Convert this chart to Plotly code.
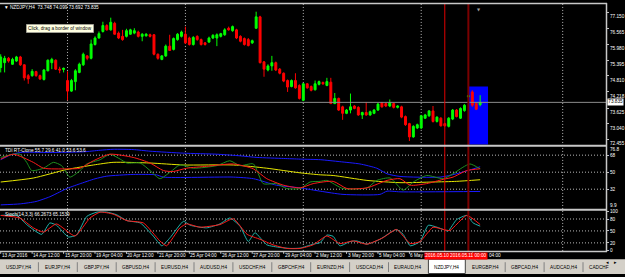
import plotly.graph_objects as go

# ---------------- data ----------------
opens = [75.12, 75.30, 75.46, 75.24, 75.36, 75.51, 75.22, 74.82, 74.82, 74.97,
         74.82, 74.68, 75.00, 75.30, 75.39, 75.06, 75.05, 74.64, 74.25, 74.60,
         74.94, 75.22, 75.55, 75.46, 75.97, 76.21, 76.45, 76.67, 76.51, 76.75,
         76.39, 76.27, 76.27, 76.35, 76.39, 76.43, 76.27, 76.29, 76.33, 76.33,
         75.61, 75.42, 75.55, 75.91, 75.79, 76.15, 76.27, 76.35, 76.21, 75.97,
         76.27, 76.15, 76.03, 76.06, 76.21, 76.21, 76.27, 76.33, 76.57, 76.48,
         76.51, 76.27, 76.19, 76.15, 76.03, 76.57, 76.99, 75.33, 75.03, 75.18,
         75.30, 75.06, 74.91, 74.64, 74.42, 74.64, 74.46, 73.91, 74.52, 74.42,
         74.30, 74.50, 74.57, 74.46, 74.58, 73.79, 73.98, 73.67, 73.43, 73.55,
         73.70, 73.65, 73.37, 73.46, 73.37, 73.43, 73.55, 73.82, 73.79, 73.70,
         73.79, 73.65, 73.67, 73.31, 73.05, 72.56, 72.89, 72.89, 73.25, 73.34,
         73.52, 73.13, 73.25, 73.05, 72.95, 73.22, 73.55, 73.25, 73.53, 74.04,
         74.22, 73.79, 73.748]
highs = [75.61, 75.55, 75.51, 75.48, 75.55, 75.55, 75.24, 74.88, 75.06, 75.00,
         74.86, 75.06, 75.42, 75.48, 75.42, 75.15, 75.12, 74.98, 74.70, 75.06,
         75.30, 75.67, 75.58, 76.15, 76.27, 76.45, 76.81, 76.72, 76.96, 76.81,
         76.45, 76.51, 76.55, 76.55, 76.57, 76.48, 76.39, 76.39, 76.37, 76.35,
         75.64, 75.58, 75.97, 76.33, 76.23, 76.39, 76.48, 76.63, 76.26, 76.28,
         76.31, 76.19, 76.06, 76.26, 76.35, 76.38, 76.40, 76.57, 76.63, 76.67,
         76.55, 76.31, 76.23, 76.21, 76.15, 77.18, 77.03, 75.36, 75.24, 75.55,
         75.34, 75.10, 74.94, 74.68, 74.68, 74.91, 74.50, 74.55, 74.55, 74.46,
         74.64, 74.64, 74.60, 74.74, 74.74, 74.18, 74.01, 73.71, 73.59, 74.16,
         73.73, 73.69, 73.49, 73.85, 73.53, 73.59, 73.82, 73.85, 73.83, 73.94,
         73.83, 73.73, 73.71, 73.35, 73.08, 72.99, 73.05, 73.37, 73.41, 73.55,
         73.70, 73.32, 73.29, 73.08, 73.29, 73.59, 73.59, 73.65, 73.77, 74.11,
         74.28, 73.83, 74.099]
lows = [74.94, 74.94, 75.30, 75.22, 75.33, 75.18, 74.64, 74.52, 74.78, 74.78,
        74.66, 74.64, 74.98, 75.06, 75.03, 74.91, 74.94, 73.91, 74.22, 74.28,
        74.91, 75.18, 75.39, 75.42, 75.93, 76.19, 76.41, 76.48, 76.48, 76.33,
        76.17, 76.11, 76.23, 76.33, 76.35, 76.23, 76.09, 76.26, 76.23, 75.57,
        75.41, 75.39, 75.51, 75.73, 75.75, 76.11, 76.23, 75.99, 75.93, 75.93,
        76.11, 75.93, 75.93, 76.03, 76.17, 75.91, 76.23, 76.29, 76.48, 76.44,
        76.17, 76.05, 75.93, 75.90, 75.99, 76.55, 75.27, 74.78, 74.98, 75.00,
        74.99, 74.87, 74.58, 74.22, 74.39, 74.34, 73.94, 73.88, 74.34, 74.24,
        74.27, 74.46, 74.48, 74.43, 73.77, 73.77, 73.52, 73.19, 73.40, 73.43,
        73.58, 73.34, 73.22, 73.34, 73.34, 73.40, 73.52, 73.64, 73.66, 73.66,
        73.61, 73.61, 73.25, 72.97, 72.41, 72.53, 72.85, 72.85, 73.22, 73.30,
        73.09, 73.09, 72.94, 72.94, 72.91, 73.18, 73.28, 73.22, 73.49, 74.01,
        73.67, 73.55, 73.692]
closes = [75.51, 75.46, 75.36, 75.42, 75.51, 75.22, 74.74, 74.70, 74.98, 74.82,
          74.70, 75.03, 75.39, 75.42, 75.06, 75.03, 75.09, 74.25, 74.64, 75.00,
          75.24, 75.61, 75.46, 75.99, 76.21, 76.37, 76.67, 76.51, 76.79, 76.35,
          76.21, 76.15, 76.48, 76.51, 76.48, 76.27, 76.35, 76.35, 76.27, 75.61,
          75.46, 75.55, 75.91, 75.75, 76.19, 76.35, 76.43, 76.03, 75.97, 76.23,
          76.15, 75.97, 75.97, 76.21, 76.31, 76.33, 76.37, 76.51, 76.51, 76.63,
          76.21, 76.09, 75.97, 75.93, 76.11, 76.99, 75.30, 75.06, 75.18, 75.30,
          75.03, 74.91, 74.62, 74.40, 74.64, 74.37, 73.98, 74.52, 74.37, 74.28,
          74.52, 74.60, 74.52, 74.60, 73.79, 73.98, 73.55, 73.43, 73.55, 73.67,
          73.61, 73.37, 73.46, 73.37, 73.49, 73.55, 73.77, 73.67, 73.70, 73.82,
          73.65, 73.70, 73.29, 73.01, 72.56, 72.95, 73.01, 73.34, 73.37, 73.52,
          73.13, 73.29, 72.97, 72.97, 73.25, 73.55, 73.31, 73.61, 73.73, 74.08,
          73.73, 73.58, 73.835]

# visible time-axis labels (those under the red vertical-line label are cut in the reference)
time_tick_bars = [0, 8, 16, 24, 32, 40, 48, 56, 64, 72, 80, 88, 96, 104, 120]
time_tick_labels = ["13 Apr 2016", "14 Apr 12:00", "15 Apr 20:00", "19 Apr 04:00",
                    "20 Apr 12:00", "21 Apr 20:00", "25 Apr 04:00", "26 Apr 12:00",
                    "27 Apr 20:00", "29 Apr 04:00", "2 May 12:00", "3 May 20:00",
                    "5 May 04:00", "6 May 1", "04:00"]
price_ticks = [77.150, 76.565, 75.980, 75.395, 74.810, 74.218, 73.625, 73.040, 72.455]
current_price = 73.835

tdi_upper_x = [0, 2.4, 4.9, 12.5, 21, 25.3, 28.6, 33.7, 38, 46.5, 55, 60.9, 65.2, 72,
               76.2, 81.3, 86.3, 91.4, 95.7, 98.3, 101.6, 111.8, 116, 122]
tdi_upper_y = [63.2, 68.0, 70.8, 70.8, 71.5, 73.2, 74.2, 73.9, 72.2, 70.1, 69.0, 67.3,
               65.6, 64.5, 63.8, 63.2, 61.1, 58.7, 54.2, 48.3, 45.5, 44.8, 48.3, 55.7]
tdi_lower_x = [0, 5, 9, 12.5, 15, 16.8, 20, 24, 27, 33.7, 39.6, 41.4, 59.2, 64.3, 70.2,
               76.2, 81.3, 87.1, 96.5, 98.3, 101.6, 122]
tdi_lower_y = [15.4, 16.5, 19.0, 24.0, 29.0, 32.7, 37.5, 43.0, 45.8, 47.6, 47.2, 44.8,
               44.8, 43.1, 36.2, 33.4, 29.9, 26.5, 26.5, 29.9, 29.2, 29.6]
tdi_yellow_x = [0, 8.3, 16.8, 23.6, 28.6, 38, 46.5, 59.2, 67.7, 76.2, 81.3, 84.6, 93.2,
                101.6, 110, 116, 122]
tdi_yellow_y = [39.6, 43.8, 52.8, 57.6, 60.4, 59.7, 57.6, 57.6, 54.2, 49.3, 47.2, 46.5,
                41.3, 38.9, 39.6, 40.3, 42.0]
tdi_red_x = [0, 3.2, 8.3, 10.9, 16.8, 20.2, 23.6, 27.8, 33.7, 38, 41.4, 43.9, 47.3, 52.4,
             59.2, 64.3, 67.7, 72, 76.2, 79.5, 84.6, 88.1, 93.2, 98.3, 101.6, 104.2,
             108.4, 112.6, 115.1, 118.6, 122]
tdi_red_y = [63.8, 69.0, 60.4, 54.2, 53.5, 54.2, 62.1, 69.0, 65.6, 59.7, 51.7, 50.7, 54.2,
             56.2, 58.7, 53.5, 43.1, 36.2, 33.4, 37.9, 40.3, 32.7, 33.4, 41.3, 43.1, 36.2,
             37.9, 42.4, 44.8, 51.7, 53.6]
tdi_green_x = [0, 3.2, 4.9, 6.6, 7.9, 10.9, 13.4, 15.5, 17.6, 20.2, 21.9, 25.3, 27.8, 30.4,
               32.1, 35.5, 38, 40.5, 43.1, 45.6, 49, 55, 58.3, 60.9, 64.3, 66.8, 70.2, 72.8,
               76.2, 78.7, 81.3, 83, 87.1, 93.2, 95.7, 99.1, 102.4, 105, 108.4, 112.6,
               115.1, 117.6, 119.4, 122]
tdi_green_y = [65.6, 69.0, 69.0, 60.4, 51.7, 54.2, 60.4, 56.9, 44.8, 51.7, 58.7, 63.2, 69.0,
               63.8, 59.7, 59.7, 51.7, 43.1, 50.0, 57.6, 54.2, 56.9, 62.1, 56.9, 58.7, 37.9,
               37.9, 32.7, 32.7, 39.6, 40.3, 41.3, 32.7, 33.4, 41.3, 43.8, 31.0, 39.6, 46.5,
               43.1, 48.3, 55.2, 58.7, 53.6]

st_main_x = [0, 4.1, 6.6, 10.4, 12.5, 14.2, 17.2, 19.3, 21.9, 24.5, 27, 29.5, 32.1, 35.5,
             38.8, 41, 43.1, 46.5, 48.2, 52.4, 55.8, 58.3, 60.9, 63, 64.7, 67.7, 71.1, 73.6,
             76.2, 79.5, 81.3, 83, 84.6, 86.3, 88.9, 90.6, 93.2, 96.5, 100.7, 102.4, 104.2,
             106.7, 108.8, 111, 112.6, 113.8, 116, 118.6, 120.2, 122]
st_main_y = [89.0, 89.0, 66.0, 41.4, 70.1, 64.4, 34.8, 39.7, 86.6, 97.3, 97.3, 90.7, 75.9,
             70.1, 37.3, 12.6, 33.1, 74.2, 64.4, 57.8, 67.7, 82.5, 61.9, 23.3, 45.5, 15.1,
             8.5, 6.0, 6.8, 16.7, 20.8, 39.7, 36.4, 12.6, 23.3, 24.9, 16.7, 29.0, 53.7, 41.4,
             12.6, 23.3, 64.4, 59.4, 53.7, 49.6, 78.4, 89.0, 70.1, 62.0]
st_sig_x = [0, 4.9, 8.3, 10.9, 14.2, 18.9, 22.7, 25.3, 28.6, 32.1, 36.3, 40.5, 42.2, 45.6,
            47.3, 50.7, 55.8, 59.2, 62.7, 66, 69.3, 72.8, 76.2, 79.5, 83, 86.3, 89.7, 93.2,
            97.3, 100.7, 104.2, 106.7, 110, 112.6, 114.3, 118.6, 122]
st_sig_y = [89.0, 82.5, 57.8, 47.1, 67.7, 37.3, 82.5, 97.3, 92.3, 75.9, 70.1, 24.9, 12.6,
            57.8, 67.7, 59.4, 66.0, 80.8, 41.4, 29.0, 15.1, 6.0, 6.0, 15.1, 37.3, 18.4, 24.9,
            16.7, 33.1, 53.7, 18.4, 23.3, 59.4, 53.7, 51.2, 89.0, 66.0]

tdi_levels = [68, 50, 32]
stoch_levels = [80, 50, 20]
grid_bars = [17, 47, 77, 107, 143]
vline_bars = [113, 119]
vline_label = "2016.05.10 2016.05.11 00:00"
rect_bars = [119, 124]
rect_prices = [74.42, 72.28]

tab_names = ["USDJPY,H4", "EURJPY,H4", "GBPJPY,H4", "GBPUSD,H4", "EURUSD,H4", "AUDUSD,H4",
             "USDCHF,H4", "GBPCHF,H4", "EURNZD,H4", "USDCAD,H4", "EURAUD,H4", "NZDJPY,H4",
             "EURGBP,H4", "GBPCAD,H4", "AUDCAD,H4", "CADCHF"]
active_tab = "NZDJPY,H4"

title_text = "NZDJPY,H4  73.748 74.099 73.692 73.835"
tdi_text = "TDI RT-Clone 55.7 29.6 41.0 53.6 53.6"
stoch_text = "Stoch(14,3,3) 66.2673 65.1539"

# ---------------- layout helpers ----------------
W, H = 625, 277
FONT = "Liberation Sans, Arial, sans-serif"
FS = 4.7
PLOT_R = 606


def xp(px):
    return px / W


def yp(py):
    return 1 - py / H


bars = list(range(len(opens)))
fig = go.Figure()

fig.add_trace(go.Candlestick(
    x=bars, open=opens, high=highs, low=lows, close=closes,
    increasing=dict(line=dict(color="#00ff00", width=1), fillcolor="#00ff00"),
    decreasing=dict(line=dict(color="#ff0000", width=1), fillcolor="#ff0000"),
    whiskerwidth=0, hoverinfo="skip", xaxis="x", yaxis="y"))

for xs, ys, col in [
    (tdi_upper_x, tdi_upper_y, "#1a1aff"),
    (tdi_lower_x, tdi_lower_y, "#1a1aff"),
    (tdi_yellow_x, tdi_yellow_y, "#e6e600"),
    (tdi_green_x, tdi_green_y, "#1f8f1f"),
    (tdi_red_x, tdi_red_y, "#ff1a1a"),
]:
    fig.add_trace(go.Scatter(x=xs, y=ys, mode="lines",
                             line=dict(color=col, width=1, shape="spline", smoothing=0.6),
                             xaxis="x", yaxis="y2", hoverinfo="skip"))

fig.add_trace(go.Scatter(x=st_main_x, y=st_main_y, mode="lines",
                         line=dict(color="#20b2aa", width=1, shape="spline", smoothing=0.5),
                         xaxis="x", yaxis="y3", hoverinfo="skip"))
fig.add_trace(go.Scatter(x=st_sig_x, y=st_sig_y, mode="lines",
                         line=dict(color="#ff1a1a", width=1, shape="spline", smoothing=0.5),
                         xaxis="x", yaxis="y3", hoverinfo="skip"))

GRID = "#b8b8b8"
BORDER = "#c8c8c8"
shapes = []
# blue rectangle object
shapes.append(dict(type="rect", xref="x", yref="y", x0=rect_bars[0], x1=rect_bars[1],
                   y0=rect_prices[1], y1=rect_prices[0], fillcolor="#0000ff",
                   line=dict(width=0), layer="below"))
# vertical dotted grid
for b in grid_bars:
    shapes.append(dict(type="line", xref="x", yref="paper", x0=b, x1=b, y0=yp(253.5), y1=yp(2),
                       line=dict(color=GRID, width=1, dash="1px,2px"), layer="below"))
# horizontal levels
for v in tdi_levels:
    shapes.append(dict(type="line", xref="paper", yref="y2", x0=0, x1=xp(PLOT_R), y0=v, y1=v,
                       line=dict(color=GRID, width=1, dash="1px,2px"), layer="below"))
for v in stoch_levels:
    shapes.append(dict(type="line", xref="paper", yref="y3", x0=0, x1=xp(PLOT_R), y0=v, y1=v,
                       line=dict(color=GRID, width=1, dash="1px,2px"), layer="below"))
# current price line
shapes.append(dict(type="line", xref="paper", yref="y", x0=0, x1=xp(PLOT_R), y0=current_price,
                   y1=current_price, line=dict(color="#8c8c8c", width=1)))
# vertical red lines
shapes.append(dict(type="line", xref="x", yref="paper", x0=vline_bars[0], x1=vline_bars[0],
                   y0=yp(254), y1=yp(2), line=dict(color="#e00000", width=1)))
shapes.append(dict(type="line", xref="x", yref="paper", x0=vline_bars[1], x1=vline_bars[1],
                   y0=yp(254), y1=yp(2), line=dict(color="#7a0000", width=2)))
# panel borders
for py, w in [(1.5, 1.5), (146.5, 2), (211.5, 2), (254, 1.5)]:
    shapes.append(dict(type="line", xref="paper", yref="paper", x0=0, x1=xp(PLOT_R + 1),
                       y0=yp(py), y1=yp(py), line=dict(color=BORDER, width=w)))
shapes.append(dict(type="line", xref="paper", yref="paper", x0=xp(PLOT_R + 0.5), x1=xp(PLOT_R + 0.5),
                   y0=yp(1), y1=yp(254.5), line=dict(color=BORDER, width=1.5)))
# time axis ticks
for b in time_tick_bars:
    shapes.append(dict(type="line", xref="x", yref="paper", x0=b, x1=b, y0=yp(254.5), y1=yp(256.5),
                       line=dict(color="#c0c0c0", width=1)))
# tab strip
shapes.append(dict(type="rect", xref="paper", yref="paper", x0=0, x1=1, y0=0, y1=yp(262),
                   fillcolor="#d4d0c8", line=dict(width=0)))
tab_w = 38.9
tab_x0 = -0.5
annotations = []
for k, name in enumerate(tab_names):
    left = tab_x0 + k * tab_w
    cx = left + tab_w / 2
    if name == active_tab:
        shapes.append(dict(type="rect", xref="paper", yref="paper", x0=xp(left + 1), x1=xp(left + tab_w - 1),
                           y0=yp(276.5), y1=yp(262), fillcolor="#ffffff",
                           line=dict(color="#404040", width=1)))
    elif k > 0 and tab_names[k - 1] != active_tab:
        shapes.append(dict(type="line", xref="paper", yref="paper", x0=xp(left), x1=xp(left),
                           y0=yp(265), y1=yp(275), line=dict(color="#808080", width=1)))
    if name == "CADCHF":
        annotations.append(dict(x=xp(left + 4), y=yp(270), xref="paper", yref="paper", text=name,
                                showarrow=False, xanchor="left", yanchor="middle",
                                font=dict(family=FONT, size=FS, color="#000000")))
    else:
        annotations.append(dict(x=xp(cx), y=yp(270), xref="paper", yref="paper", text=name,
                                showarrow=False, xanchor="center", yanchor="middle",
                                font=dict(family=FONT, size=FS, color="#000000")))
shapes.append(dict(type="rect", xref="paper", yref="paper", x0=xp(607), x1=1, y0=yp(276), y1=yp(263),
                   fillcolor="#d4d0c8", line=dict(width=0)))
annotations.append(dict(x=xp(611), y=yp(270), xref="paper", yref="paper", text="◂", showarrow=False,
                        font=dict(family="DejaVu Sans", size=5, color="#000000")))
annotations.append(dict(x=xp(619), y=yp(270), xref="paper", yref="paper", text="▸", showarrow=False,
                        font=dict(family="DejaVu Sans", size=5, color="#000000")))

# time labels
for b, t in zip(time_tick_bars, time_tick_labels):
    shift = -1
    if b > vline_bars[1]:
        shift = 15  # the date part sits under the vertical-line label
    annotations.append(dict(x=b, y=yp(258.3), xref="x", yref="paper", text=t, showarrow=False,
                            xanchor="left", yanchor="middle", xshift=shift,
                            font=dict(family=FONT, size=FS, color="#ffffff")))
# vertical line labels on time axis (red box)
annotations.append(dict(x=(vline_bars[0] + vline_bars[1]) / 2, y=yp(258.3), xref="x", yref="paper",
                        text=vline_label, showarrow=False, xanchor="center", yanchor="middle",
                        xshift=-0.5, bgcolor="#ff0000", borderpad=0.3,
                        font=dict(family=FONT, size=FS, color="#ffffff")))

# panel titles
annotations.append(dict(x=xp(2), y=yp(5.3), xref="paper", yref="paper", text="▼ " + title_text,
                        showarrow=False, xanchor="left", yanchor="middle",
                        font=dict(family=FONT, size=FS, color="#ffffff")))
annotations.append(dict(x=xp(2.5), y=yp(151.5), xref="paper", yref="paper", text=tdi_text,
                        showarrow=False, xanchor="left", yanchor="middle",
                        font=dict(family=FONT, size=FS, color="#ffffff")))
annotations.append(dict(x=xp(2.5), y=yp(216.5), xref="paper", yref="paper", text=stoch_text,
                        showarrow=False, xanchor="left", yanchor="middle",
                        font=dict(family=FONT, size=FS, color="#ffffff")))
# tooltip
annotations.append(dict(x=xp(25.5), y=yp(26.7), xref="paper", yref="paper",
                        text="Click, drag a border of window", showarrow=False, xanchor="left",
                        yanchor="middle", bgcolor="#ffffe1", bordercolor="#808080", borderwidth=0.5,
                        borderpad=1.5, font=dict(family=FONT, size=FS, color="#000000")))
# current price label
annotations.append(dict(x=xp(607), y=current_price, xref="paper", yref="y", text=f"{current_price:.3f}",
                        showarrow=False, xanchor="left", yanchor="middle", bgcolor="#ffffff",
                        borderpad=0.3, font=dict(family=FONT, size=FS, color="#000000")))
# subwindow max/min labels
annotations.append(dict(x=xp(608), y=yp(150.6), xref="paper", yref="paper", text="76.8",
                        showarrow=False, xanchor="left", yanchor="middle",
                        font=dict(family=FONT, size=FS, color="#ffffff")))
annotations.append(dict(x=xp(608), y=yp(207.5), xref="paper", yref="paper", text="9.9",
                        showarrow=False, xanchor="left", yanchor="middle",
                        font=dict(family=FONT, size=FS, color="#ffffff")))
# chart shift marker
annotations.append(dict(x=xp(483), y=yp(3.2), xref="paper", yref="paper", text="▼", showarrow=False,
                        font=dict(family="DejaVu Sans", size=4, color="#a0a0a0")))

axis_font = dict(family=FONT, size=FS, color="#ffffff")
common_y = dict(side="right", showgrid=False, zeroline=False, ticks="outside", ticklen=2,
                tickcolor="#c0c0c0", tickfont=axis_font, anchor="x", fixedrange=True, showline=False)

fig.update_layout(
    width=W, height=H, margin=dict(l=0, r=0, t=0, b=0),
    paper_bgcolor="#000000", plot_bgcolor="#000000", showlegend=False,
    xaxis=dict(domain=[0, xp(PLOT_R)], range=[-0.18, 154.02], showticklabels=False, showgrid=False,
               zeroline=False, ticks="", showline=False, rangeslider=dict(visible=False),
               fixedrange=True, anchor="y"),
    yaxis=dict(domain=[yp(146), yp(2)], range=[72.248, 77.466], tickvals=price_ticks,
               ticktext=[f"{v:.3f}" for v in price_ticks], ticklabelshift=4, **common_y),
    yaxis2=dict(domain=[yp(211), yp(147.5)], range=[10.85, 76.8], tickvals=tdi_levels,
                ticktext=[str(v) for v in tdi_levels], **common_y),
    yaxis3=dict(domain=[yp(253.4), yp(212.9)], range=[0, 100], tickvals=[100] + stoch_levels + [0],
                ticktext=["100"] + [str(v) for v in stoch_levels] + ["0"], **common_y),
    shapes=shapes, annotations=annotations,
)

fig.write_html("out.html")
